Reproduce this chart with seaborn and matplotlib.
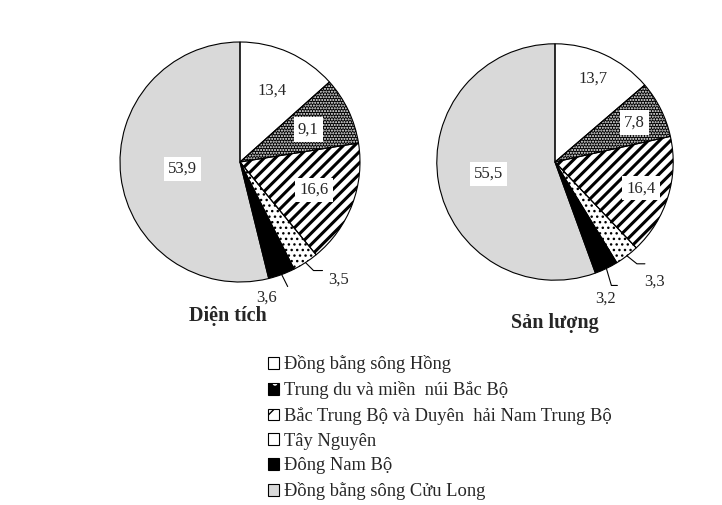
import numpy as np
import matplotlib
matplotlib.use("Agg")
import matplotlib.pyplot as plt
import seaborn as sns
from matplotlib.patches import Patch
from matplotlib.legend_handler import HandlerTuple

# data
categories = ["Đồng bằng sông Hồng", "Trung du và miền  núi Bắc Bộ",
              "Bắc Trung Bộ và Duyên  hải Nam Trung Bộ", "Tây Nguyên",
              "Đông Nam Bộ", "Đồng bằng sông Cửu Long"]
dien_tich = [13.4, 9.1, 16.6, 3.5, 3.6, 53.9]
san_luong = [13.7, 7.8, 16.4, 3.3, 3.2, 55.5]
titles = ["Diện tích", "Sản lượng"]

sns.set_theme(style="white")
plt.rcParams["font.family"] = ["Liberation Serif", "DejaVu Serif"]
plt.rcParams["hatch.linewidth"] = 1.0

# styles: facecolor, hatch, hatch color
styles = [("white", None, "black"),
          ("black", "......", "white"),
          ("white", "///", "black"),
          ("white", "...", "black"),
          ("black", None, "black"),
          ("#d9d9d9", None, "black")]

W, H = 722, 505
PX = 120.0  # pixels per data unit


def make_ax(fig, cx, cy):
    half = 1.5 * PX
    ax = fig.add_axes([(cx - half) / W, (H - cy - half) / H, 2 * half / W, 2 * half / H])
    ax.set_xlim(-1.5, 1.5)
    ax.set_ylim(-1.5, 1.5)
    ax.set_aspect("equal")
    ax.axis("off")
    return ax


def draw_pie(ax, values, radius, inner_r, outer_lbl):
    # fill + hatch layer
    wedges, _ = ax.pie(values, startangle=90, counterclock=False, radius=radius,
                       colors=[s[0] for s in styles],
                       wedgeprops=dict(linewidth=0), frame=True)
    for w, (fc, hatch, hc) in zip(wedges, styles):
        if hatch:
            w.set_hatch(hatch)
            w.set_edgecolor(hc)
            if hatch == "///" and hasattr(w, "set_hatch_linewidth"):
                w.set_hatch_linewidth(2.2)
    # outlines
    ax.pie(values, startangle=90, counterclock=False, radius=radius,
           colors=["none"] * len(values),
           wedgeprops=dict(linewidth=0.8, edgecolor="black"), frame=True)
    ax.set_xlim(-1.5, 1.5)
    ax.set_ylim(-1.5, 1.5)
    ax.axis("off")

    total = sum(values)
    cum = np.cumsum([0] + list(values))
    for i, v in enumerate(values):
        mid = np.deg2rad(90 - (cum[i] + v / 2) / total * 360)
        txt = f"{v:.1f}".replace(".", ",")
        if inner_r[i] is not None:
            r = inner_r[i] * radius
            ax.text(r * np.cos(mid), r * np.sin(mid), txt, ha="center", va="center",
                    fontsize=12,
                    bbox=dict(facecolor="white", edgecolor="none", pad=3))
        else:
            d1, h, dt = outer_lbl[i]
            x0, y0 = radius * np.cos(mid), radius * np.sin(mid)
            x1, y1 = x0 + d1[0] / PX, y0 - d1[1] / PX
            x2 = x1 + h / PX
            ax.plot([x0, x1, x2], [y0, y1, y1], color="black", lw=0.8)
            ax.text(x0 + dt[0] / PX, y0 - dt[1] / PX, txt, ha="center", va="center",
                    fontsize=12)


fig = plt.figure(figsize=(W / 100, H / 100), dpi=100)

ax1 = make_ax(fig, 240, 162)
draw_pie(ax1, dien_tich, 1.0,
         [0.65, 0.63, 0.66, None, None, 0.48],
         {3: ((8, 8), 9, (33, 17)), 4: ((6, 12), 0, (-15, 23))})
ax1.text((228 - 240) / PX, -(316 - 162) / PX, titles[0], ha="center", va="center",
         fontsize=14.5, fontweight="bold")

ax2 = make_ax(fig, 555, 162)
draw_pie(ax2, san_luong, 0.985,
         [0.78, 0.75, 0.76, None, None, 0.57],
         {3: ((10, 8), 8, (28, 26)), 4: ((5, 17), 6, (-1, 30))})
ax2.text(0, -(323 - 162) / PX, titles[1], ha="center", va="center",
         fontsize=14.5, fontweight="bold")

# legend
legend_hatch = [None, ".", "//", ".", None, None]
handles = []
for (fc, hatch, hc), lh in zip(styles, legend_hatch):
    base = Patch(facecolor=fc, edgecolor=hc if lh else fc, hatch=lh, linewidth=0)
    edge = Patch(facecolor="none", edgecolor="black", linewidth=0.8)
    handles.append((base, edge))
fig.legend(handles, categories, loc="upper left",
           bbox_to_anchor=(261 / W, 1 - 348 / H), frameon=False,
           handler_map={tuple: HandlerTuple(ndivide=1, pad=0)},
           handlelength=0.6, handleheight=0.6, handletextpad=0.25,
           labelspacing=0.42, fontsize=13.3, borderaxespad=0)

fig.savefig("out.png", dpi=100)
